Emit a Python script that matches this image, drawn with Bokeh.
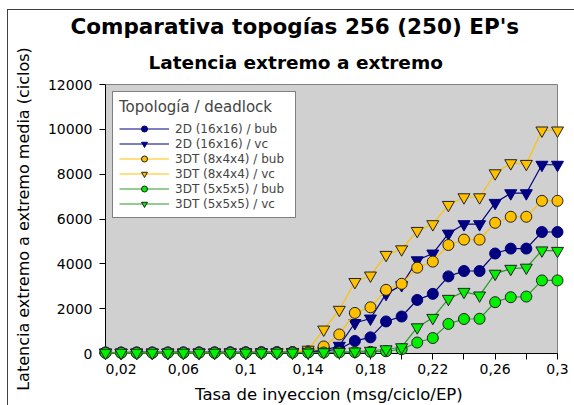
from bokeh.plotting import figure
from bokeh.models import (Range1d, FixedTicker, Legend, LegendItem, Title,
                          InlineStyleSheet)
from bokeh.embed import file_html
from bokeh.resources import INLINE

# ---------------- data ----------------
x_rate = [0.01, 0.02, 0.03, 0.04, 0.05, 0.06, 0.07, 0.08, 0.09, 0.10,
          0.11, 0.12, 0.13, 0.14, 0.15, 0.16, 0.17, 0.18, 0.19, 0.20,
          0.21, 0.22, 0.23, 0.24, 0.25, 0.26, 0.27, 0.28, 0.29, 0.30]

lat_2d_bub = [45, 45, 46, 46, 47, 48, 49, 50, 52, 54,
              57, 60, 66, 80, 110, 200, 560, 720, 1430, 1650,
              2390, 2660, 3440, 3680, 3680, 4460, 4680, 4680, 5420, 5420]
lat_2d_vc = [45, 45, 46, 46, 47, 48, 49, 50, 52, 55,
             58, 62, 70, 90, 130, 345, 1360, 1560, 2660, 3050,
             4160, 4460, 5350, 5770, 5770, 6720, 7150, 7150, 8420, 8420]
lat_3dt8_bub = [38, 38, 39, 39, 40, 40, 41, 42, 43, 45,
                47, 50, 58, 100, 314, 850, 1810, 2060, 2840, 3110,
                3830, 4100, 4840, 5080, 5080, 5830, 6100, 6100, 6810, 6810]
lat_3dt8_vc = [38, 38, 39, 39, 40, 40, 41, 42, 43, 45,
               48, 52, 62, 170, 1070, 1950, 3190, 3480, 4400, 4650,
               5470, 5770, 6630, 6970, 6970, 8040, 8490, 8460, 9950, 9950]
lat_3dt5_bub = [32, 32, 33, 33, 33, 34, 34, 35, 35, 36,
                37, 38, 40, 42, 45, 50, 60, 75, 100, 190,
                490, 690, 1320, 1540, 1550, 2290, 2510, 2540, 3260, 3260]
lat_3dt5_vc = [32, 32, 33, 33, 33, 34, 34, 35, 35, 36,
               37, 38, 40, 44, 60, 70, 90, 120, 190, 280,
               1170, 1590, 2440, 2750, 2590, 3560, 3780, 3830, 4600, 4580]

series_labels = ["2D (16x16) / bub", "2D (16x16) / vc",
                 "3DT (8x4x4) / bub", "3DT (8x4x4) / vc",
                 "3DT (5x5x5) / bub", "3DT (5x5x5) / vc"]

x_tick_values = [0.02, 0.04, 0.06, 0.08, 0.10, 0.12, 0.14, 0.16,
                 0.18, 0.20, 0.22, 0.24, 0.26, 0.28, 0.30]
x_tick_labels = ["0,02", "", "0,06", "", "0,1", "", "0,14", "",
                 "0,18", "", "0,22", "", "0,26", "", "0,3"]
y_tick_values = [0, 2000, 4000, 6000, 8000, 10000, 12000]

title_text = "Comparativa topogías 256 (250) EP's"
subtitle_text = "Latencia extremo a extremo"
x_label = "Tasa  de inyeccion (msg/ciclo/EP)"
y_label = "Latencia extremo a extremo media (ciclos)"
legend_title = "Topología / deadlock"

# ---------------- styling ----------------
FONT = "DejaVu Sans"
NAVY = "#000080"
GOLD = "#FFC000"
GREEN_FILL = "#00F000"
GREEN_LINE = "#2a9a2a"

border_css = InlineStyleSheet(css=":host { border-left: 1px solid #404040 !important; "
                                  "border-top: 1px solid #404040 !important; }")

p = figure(width=567, height=396, output_backend="svg", toolbar_location=None,
           x_range=Range1d(0.01, 0.30), y_range=Range1d(0, 12000),
           min_border_left=97, min_border_right=18, min_border_top=74,
           min_border_bottom=53,
           background_fill_color="#d0d0d0", border_fill_color="white",
           outline_line_color="#808080", outline_line_width=1,
           styles={"margin-left": "7px", "margin-top": "9px",
                   "border-left": "1px solid #404040",
                   "border-top": "1px solid #404040"},
           stylesheets=[border_css])
p.title.visible = False

sub = Title(text=subtitle_text, align="left", text_font=FONT,
            text_font_size="18.5px", text_font_style="bold", offset=43,
            text_color="black", standoff=24)
p.add_layout(sub, "above")
main = Title(text=title_text, align="left", text_font=FONT,
             text_font_size="21.5px", text_font_style="bold", offset=-35,
             text_color="black", standoff=-2)
p.add_layout(main, "above")

p.grid.visible = False

p.xaxis.ticker = FixedTicker(ticks=x_tick_values)
p.xaxis.major_label_overrides = {v: l for v, l in zip(x_tick_values, x_tick_labels)}
p.yaxis.ticker = FixedTicker(ticks=y_tick_values)
for ax in (p.xaxis, p.yaxis):
    ax.major_tick_out = 6
    ax.major_tick_in = 0
    ax.minor_tick_out = 0
    ax.minor_tick_in = 0
    ax.axis_line_color = "black"
    ax.major_tick_line_color = "black"
    ax.major_label_text_font = FONT
    ax.major_label_text_font_size = "14px"
    ax.major_label_text_color = "black"
    ax.axis_label_text_font = FONT
    ax.axis_label_text_font_size = "16px"
    ax.axis_label_text_font_style = "normal"
    ax.axis_label_text_color = "black"
p.xaxis.axis_label_text_font_size = "16.5px"
p.xaxis.axis_label = x_label
p.yaxis.axis_label = y_label
p.xaxis.major_label_standoff = 4
p.xaxis.axis_label_standoff = 8
p.yaxis.major_label_standoff = 7
p.yaxis.axis_label_standoff = 12

series = [
    (lat_2d_bub, "circle", NAVY, NAVY, NAVY),
    (lat_2d_vc, "inverted_triangle", NAVY, NAVY, NAVY),
    (lat_3dt8_bub, "circle", GOLD, GOLD, "#202020"),
    (lat_3dt8_vc, "inverted_triangle", GOLD, GOLD, "#202020"),
    (lat_3dt5_bub, "circle", GREEN_LINE, GREEN_FILL, "#202020"),
    (lat_3dt5_vc, "inverted_triangle", GREEN_LINE, GREEN_FILL, "#202020"),
]

items = []
for (vals, marker, lcol, fcol, ocol), lab in zip(series, series_labels):
    lr = p.line(x_rate, vals, line_color=lcol, line_width=1.2, level="overlay")
    sr = p.scatter(x_rate, vals, marker=marker, size=11 if marker == "circle" else 12,
                   fill_color=fcol, line_color=ocol, line_width=1, level="overlay")
    items.append(LegendItem(label=lab, renderers=[lr, sr]))

legend = Legend(items=items, location=(7, 135), title=legend_title,
                title_text_font=FONT, title_text_font_size="15px",
                title_text_font_style="normal", title_standoff=5,
                label_text_font=FONT, label_text_font_size="12px",
                glyph_width=50, glyph_height=15, label_height=15,
                label_width=114,
                label_standoff=6, spacing=0, padding=6, margin=0,
                border_line_color="black", border_line_width=1,
                background_fill_color="white", background_fill_alpha=1.0)
p.add_layout(legend, "center")

open("out.html", "w").write(file_html(p, INLINE))
